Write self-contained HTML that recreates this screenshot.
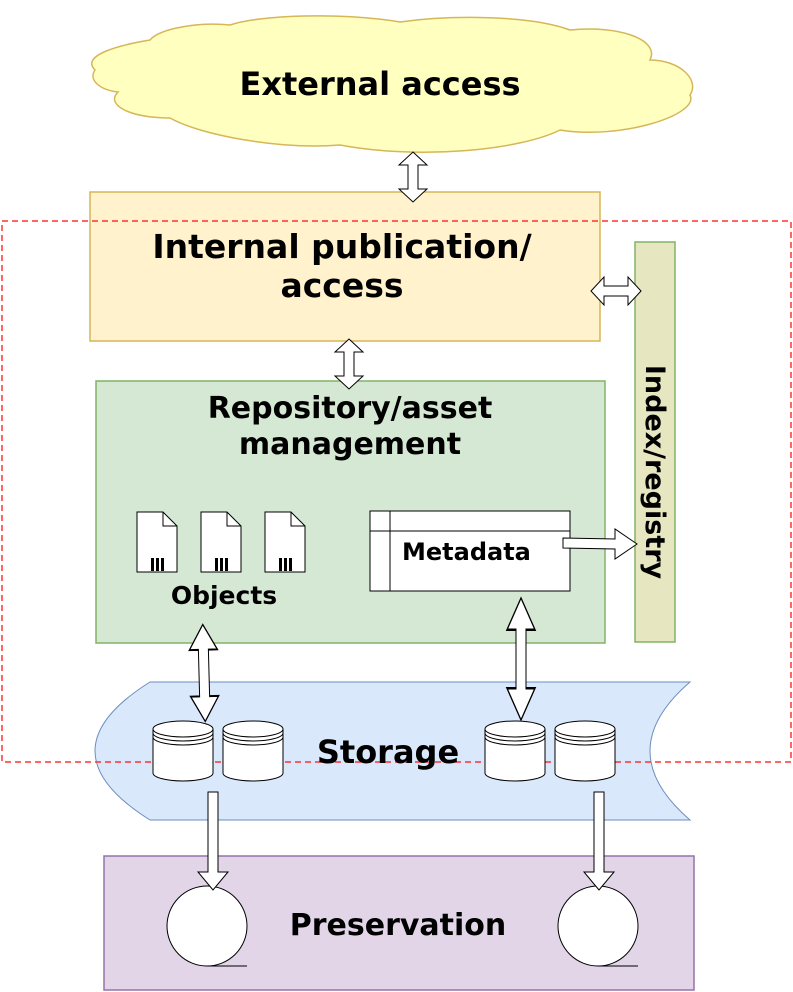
<!DOCTYPE html>
<html><head><meta charset="utf-8"><style>body{margin:0;background:#fff}svg{display:block}</style></head><body>
<svg width="793" height="992" viewBox="0 0 793 992" xmlns="http://www.w3.org/2000/svg" font-family="'DejaVu Sans','Liberation Sans',sans-serif" font-weight="bold">
<defs>
<g id="dv"><path d="M0,-25 L14,-12 L5,-12 L5,12 L14,12 L0,25 L-14,12 L-5,12 L-5,-12 L-14,-12 Z" fill="#fff" stroke="#000" stroke-width="1"/></g>
<g id="doc"><path d="M0,0 L26,0 L40,14 L40,60 L0,60 Z" fill="#fff" stroke="#000"/><path d="M26,0 L26,14 L40,14" fill="none" stroke="#000"/><rect x="14" y="46" width="3" height="13"/><rect x="19" y="46" width="3" height="13"/><rect x="24" y="46" width="3" height="13"/></g>
<g id="cyl"><path d="M0,8 L0,52 A30,8 0 0 0 60,52 L60,8" fill="#fff" stroke="#000"/><ellipse cx="30" cy="8" rx="30" ry="8" fill="#fff" stroke="#000"/><path d="M0,12 A30,8 0 0 0 60,12 M0,16 A30,8 0 0 0 60,16" fill="none" stroke="#000"/></g>
</defs>
<path d="M150,40 C120,45 80,55 95,70 C88,80 100,90 118,92 C105,105 130,118 170,118 C200,135 280,150 340,145 C420,160 520,150 560,130 C620,140 700,115 690,95 C700,80 680,60 650,60 C660,40 620,25 570,30 C530,15 450,15 400,22 C340,12 260,15 230,25 C200,22 160,28 150,40 Z" fill="#ffffc0" stroke="#d6b656" stroke-width="1.5"/>
<text x="380" y="95" font-size="32" text-anchor="middle">External access</text>
<rect x="90" y="192" width="510" height="149" fill="#fff2cc" stroke="#d6b656" stroke-width="1.5"/>
<text x="342" y="258" font-size="33" text-anchor="middle">Internal publication/</text>
<text x="342" y="297" font-size="33" text-anchor="middle">access</text>
<use href="#dv" x="413" y="177"/>
<rect x="635" y="242" width="40" height="400" fill="#e6e6c0" stroke="#82b366" stroke-width="1.5"/>
<text transform="translate(646,472) rotate(90)" font-size="27" text-anchor="middle">Index/registry</text>
<use href="#dv" transform="translate(616,291) rotate(90)"/>
<rect x="96" y="381" width="509" height="262" fill="#d5e8d4" stroke="#82b366" stroke-width="1.5"/>
<use href="#dv" x="349" y="364"/>
<text x="350" y="418" font-size="30" text-anchor="middle">Repository/asset</text>
<text x="350" y="454" font-size="30" text-anchor="middle">management</text>
<use href="#doc" x="137" y="512"/><use href="#doc" x="201" y="512"/><use href="#doc" x="265" y="512"/>
<text x="224" y="604" font-size="25" text-anchor="middle">Objects</text>
<rect x="370" y="511" width="200" height="80" fill="#fff" stroke="#000"/>
<line x1="370" y1="531" x2="570" y2="531" stroke="#000"/><line x1="390" y1="511" x2="390" y2="591" stroke="#000"/>
<text x="402" y="560" font-size="24">Metadata</text>
<path d="M563,538 L615,539 L615,529 L637,544 L615,559 L615,549 L563,548 Z" fill="#fff" stroke="#000"/>
<path d="M150,682 L690,682 Q610,751 690,820 L150,820 Q40,751 150,682 Z" fill="#dae8fc" stroke="#6c8ebf"/>
<rect x="2" y="221" width="789" height="541" fill="none" stroke="#ff3333" stroke-width="1.5" stroke-dasharray="6,4"/>
<use href="#dv" transform="translate(204,673) rotate(-1.5) scale(1,1.94)"/>
<use href="#dv" transform="translate(521,659) scale(1,2.44)"/>
<use href="#cyl" x="153" y="721"/><use href="#cyl" x="223" y="721"/><use href="#cyl" x="485" y="721"/><use href="#cyl" x="555" y="721"/>
<text x="388" y="763" font-size="32" text-anchor="middle">Storage</text>
<rect x="104" y="856" width="590" height="134" fill="#e1d5e7" stroke="#9673a6" stroke-width="1.5"/>
<circle cx="207" cy="926" r="40" fill="#fff" stroke="#000"/><line x1="207" y1="966" x2="247" y2="966" stroke="#000"/>
<circle cx="598" cy="926" r="40" fill="#fff" stroke="#000"/><line x1="598" y1="966" x2="638" y2="966" stroke="#000"/>
<path d="M208,792 L218,792 L218,872 L228,872 L213,890 L198,872 L208,872 Z" fill="#fff" stroke="#000"/>
<path d="M594,792 L604,792 L604,872 L614,872 L599,890 L584,872 L594,872 Z" fill="#fff" stroke="#000"/>
<text x="398" y="935" font-size="30" text-anchor="middle">Preservation</text>
</svg>
</body></html>
